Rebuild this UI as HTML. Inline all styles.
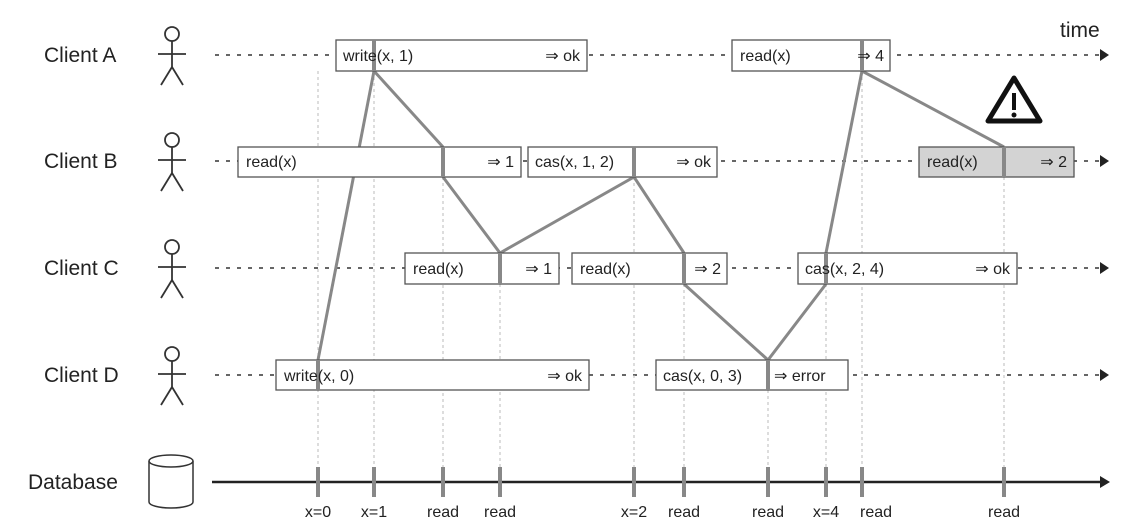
<!DOCTYPE html>
<html><head><style>
html,body{margin:0;padding:0;background:#fff;}
svg{display:block;}
text{font-family:"Liberation Sans",sans-serif;fill:#222;}
</style></head><body>
<svg width="1135" height="532" viewBox="0 0 1135 532" xmlns="http://www.w3.org/2000/svg">
<defs>
<g id="actor" stroke="#333" stroke-width="1.8" fill="none">
<circle cx="172" cy="-21" r="7"/>
<line x1="172" y1="-14" x2="172" y2="12"/>
<line x1="158" y1="-1" x2="186" y2="-1"/>
<line x1="172" y1="12" x2="161" y2="30"/>
<line x1="172" y1="12" x2="183" y2="30"/>
</g>
</defs>
<g font-size="21">
<text x="44" y="62">Client A</text>
<text x="44" y="168">Client B</text>
<text x="44" y="275">Client C</text>
<text x="44" y="382">Client D</text>
<text x="28" y="489">Database</text>
<text x="1060" y="37">time</text>
</g>
<use href="#actor" transform="translate(0,55)"/>
<use href="#actor" transform="translate(0,161)"/>
<use href="#actor" transform="translate(0,268)"/>
<use href="#actor" transform="translate(0,375)"/>
<g stroke="#333" stroke-width="1.5" fill="#fff">
<path d="M149 461 V502 A22 6 0 0 0 193 502 V461"/>
<ellipse cx="171" cy="461" rx="22" ry="6"/>
</g>
<g stroke="#333" stroke-width="1.5" stroke-dasharray="4,7">
<line x1="215" y1="55" x2="1100" y2="55"/>
<line x1="215" y1="161" x2="1100" y2="161"/>
<line x1="215" y1="268" x2="1100" y2="268"/>
<line x1="215" y1="375" x2="1100" y2="375"/>
</g>
<g fill="#222">
<polygon points="1100,49 1109,55 1100,61"/>
<polygon points="1100,155 1109,161 1100,167"/>
<polygon points="1100,262 1109,268 1100,274"/>
<polygon points="1100,369 1109,375 1100,381"/>
<polygon points="1100,476 1110,482 1100,488"/>
</g>
<g stroke="#bbb" stroke-width="1" stroke-dasharray="3,3">
<line x1="318" y1="71" x2="318" y2="467"/>
<line x1="374" y1="71" x2="374" y2="467"/>
<line x1="443" y1="177" x2="443" y2="467"/>
<line x1="500" y1="284" x2="500" y2="467"/>
<line x1="634" y1="177" x2="634" y2="467"/>
<line x1="684" y1="284" x2="684" y2="467"/>
<line x1="768" y1="390" x2="768" y2="467"/>
<line x1="826" y1="284" x2="826" y2="467"/>
<line x1="862" y1="71" x2="862" y2="467"/>
<line x1="1004" y1="177" x2="1004" y2="467"/>
</g>
<g stroke="#888" stroke-width="3" fill="none">
<line x1="374" y1="71" x2="318" y2="360"/>
<polyline points="374,71 443,147"/>
<polyline points="443,177 500,253 634,177 684,253"/>
<polyline points="684,284 768,360 826,284"/>
<polyline points="826,253 862,71 1004,147"/>
</g>
<g stroke="#555" stroke-width="1.3" fill="#fff">
<rect x="336" y="40" width="251" height="31"/>
<rect x="732" y="40" width="158" height="31"/>
<rect x="238" y="147" width="283" height="30"/>
<rect x="528" y="147" width="189" height="30"/>
<rect x="919" y="147" width="155" height="30" fill="#d3d3d3"/>
<rect x="405" y="253" width="154" height="31"/>
<rect x="572" y="253" width="155" height="31"/>
<rect x="798" y="253" width="219" height="31"/>
<rect x="276" y="360" width="313" height="30"/>
<rect x="656" y="360" width="192" height="30"/>
</g>
<g stroke="#888" stroke-width="4">
<line x1="374" y1="40" x2="374" y2="71"/>
<line x1="862" y1="40" x2="862" y2="71"/>
<line x1="443" y1="147" x2="443" y2="177"/>
<line x1="634" y1="147" x2="634" y2="177"/>
<line x1="1004" y1="147" x2="1004" y2="177"/>
<line x1="500" y1="253" x2="500" y2="284"/>
<line x1="684" y1="253" x2="684" y2="284"/>
<line x1="826" y1="253" x2="826" y2="284"/>
<line x1="318" y1="360" x2="318" y2="390"/>
<line x1="768" y1="360" x2="768" y2="390"/>
</g>
<g font-size="16">
<text x="343" y="61">write(x, 1)</text><text x="580" y="61" text-anchor="end">⇒ ok</text>
<text x="740" y="61">read(x)</text><text x="884" y="61" text-anchor="end">⇒ 4</text>
<text x="246" y="167">read(x)</text><text x="514" y="167" text-anchor="end">⇒ 1</text>
<text x="535" y="167">cas(x, 1, 2)</text><text x="711" y="167" text-anchor="end">⇒ ok</text>
<text x="927" y="167">read(x)</text><text x="1067" y="167" text-anchor="end">⇒ 2</text>
<text x="413" y="274">read(x)</text><text x="552" y="274" text-anchor="end">⇒ 1</text>
<text x="580" y="274">read(x)</text><text x="721" y="274" text-anchor="end">⇒ 2</text>
<text x="805" y="274">cas(x, 2, 4)</text><text x="1010" y="274" text-anchor="end">⇒ ok</text>
<text x="284" y="381">write(x, 0)</text><text x="582" y="381" text-anchor="end">⇒ ok</text>
<text x="663" y="381">cas(x, 0, 3)</text><text x="774" y="381">⇒ error</text>
</g>
<g>
<polygon points="1014,78 1040,121 988,121" fill="none" stroke="#111" stroke-width="5" stroke-linejoin="round"/>
<rect x="1012" y="93" width="4" height="17" fill="#111"/>
<circle cx="1014" cy="115" r="2.5" fill="#111"/>
</g>
<line x1="212" y1="482" x2="1102" y2="482" stroke="#222" stroke-width="2.5"/>
<g stroke="#888" stroke-width="4">
<line x1="318" y1="467" x2="318" y2="497"/>
<line x1="374" y1="467" x2="374" y2="497"/>
<line x1="443" y1="467" x2="443" y2="497"/>
<line x1="500" y1="467" x2="500" y2="497"/>
<line x1="634" y1="467" x2="634" y2="497"/>
<line x1="684" y1="467" x2="684" y2="497"/>
<line x1="768" y1="467" x2="768" y2="497"/>
<line x1="826" y1="467" x2="826" y2="497"/>
<line x1="862" y1="467" x2="862" y2="497"/>
<line x1="1004" y1="467" x2="1004" y2="497"/>
</g>
<g font-size="16" text-anchor="middle">
<text x="318" y="517">x=0</text>
<text x="374" y="517">x=1</text>
<text x="443" y="517">read</text>
<text x="500" y="517">read</text>
<text x="634" y="517">x=2</text>
<text x="684" y="517">read</text>
<text x="768" y="517">read</text>
<text x="826" y="517">x=4</text>
<text x="876" y="517">read</text>
<text x="1004" y="517">read</text>
</g>
</svg>
</body></html>
